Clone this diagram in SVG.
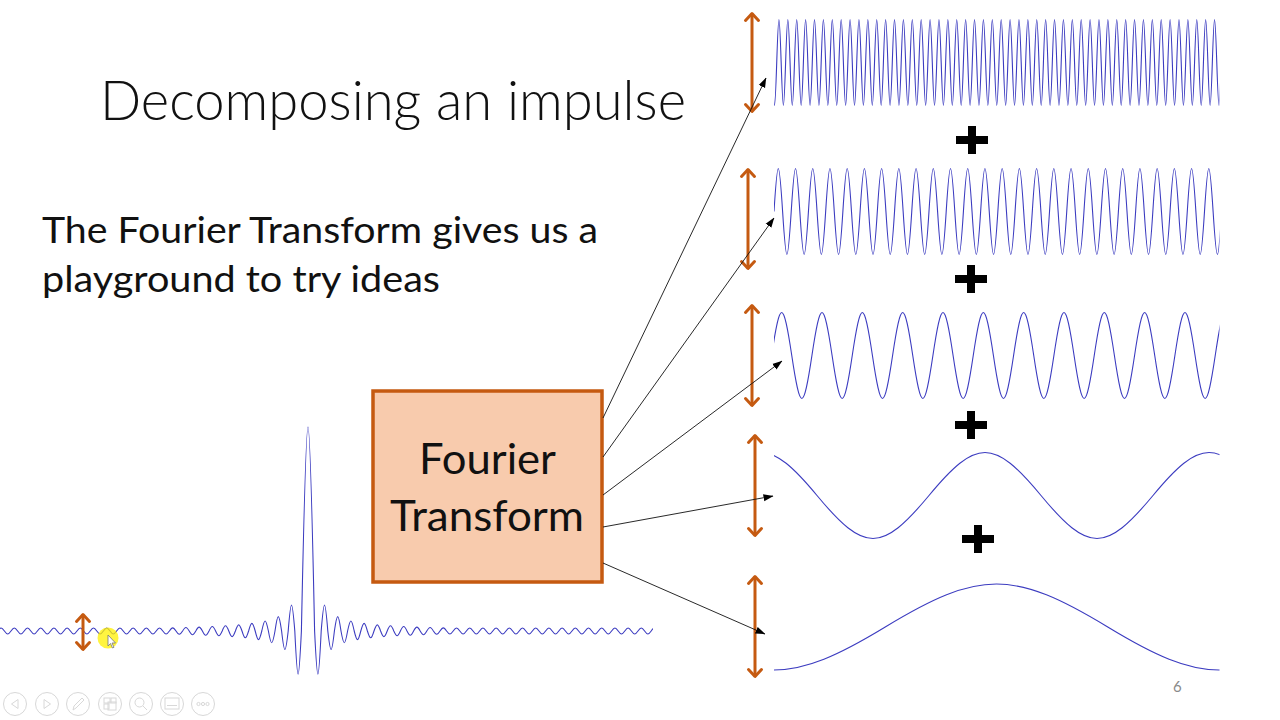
<svg xmlns="http://www.w3.org/2000/svg" width="1280" height="720" viewBox="0 0 1280 720">
<style>
.t{font-family:Lato,"Liberation Sans",sans-serif;fill:#111}
.lt{font-weight:300}
.wave{fill:none;stroke:#3c3cc0;stroke-width:1.1}
.amp{stroke:#C55A11;stroke-width:3;marker-start:url(#oh);marker-end:url(#oh)}
.con{stroke:#111;stroke-width:0.9;fill:none;marker-end:url(#ah)}
.tb{fill:none;stroke:#d8d8d8;stroke-width:1}
</style>
<defs>
<marker id="oh" markerUnits="userSpaceOnUse" viewBox="-10 -8 12 16" markerWidth="12" markerHeight="16" refX="0" refY="0" orient="auto-start-reverse" overflow="visible">
<path d="M-7,-6.5 L0,0 L-7,6.5" fill="none" stroke="#C55A11" stroke-width="3" stroke-linecap="round" stroke-linejoin="round"/>
</marker>
<marker id="ah" markerUnits="userSpaceOnUse" viewBox="0 0 10 8" markerWidth="10" markerHeight="8" refX="9.5" refY="4" orient="auto">
<path d="M0,0.5 L10,4 L0,7.5 z" fill="#000"/>
</marker>
<clipPath id="cw"><rect x="774" y="0" width="445.5" height="720"/></clipPath>
<clipPath id="ci"><rect x="0" y="400" width="653" height="300"/></clipPath>
</defs>
<rect width="1280" height="720" fill="#fff"/>

<g id="title"><text class="t lt" x="100" y="120" font-size="56" textLength="586" lengthAdjust="spacingAndGlyphs">Decomposing an impulse</text></g>
<g id="body-text">
<text class="t" x="42" y="243" font-size="36" textLength="556" lengthAdjust="spacingAndGlyphs">The Fourier Transform gives us a</text>
<text class="t" x="42" y="292" font-size="36" textLength="398" lengthAdjust="spacingAndGlyphs">playground to try ideas</text>
</g>

<g id="impulse-signal" clip-path="url(#ci)">
<path class="wave" d="M-2.2,631 c2.8,-4 3.8,-4 6.6,0
s3.8,4 6.6,0s3.8,-4 6.6,0 s3.8,4 6.6,0s3.8,-4 6.6,0 s3.8,4 6.6,0s3.8,-4 6.6,0 s3.8,4 6.6,0s3.8,-4 6.6,0
s3.8,4 6.6,0s3.8,-4 6.6,0 s3.8,4 6.6,0s3.8,-4 6.6,0 s3.8,4 6.6,0s3.8,-4 6.6,0 s3.8,4 6.6,0s3.8,-4 6.6,0
s3.8,4 6.6,0s3.8,-4 6.6,0 s3.8,4 6.6,0s3.8,-4 6.6,0 s3.8,4 6.6,0s3.8,-4 6.6,0 s3.8,4 6.6,0s3.8,-4 6.6,0
s3.8,4 6.6,0
c2.8,-4.2 3.8,-4.2 6.6,0 c2.8,4.4 3.8,4.4 6.6,0 c2.8,-4.7 3.8,-4.7 6.6,0 c2.8,4.9 3.8,4.9 6.6,0
c2.8,-5.2 3.8,-5.2 6.6,0 c2.8,5.6 3.8,5.6 6.6,0 c2.8,-6 3.8,-6 6.6,0 c2.8,6.4 3.8,6.4 6.6,0
c2.8,-6.9 3.8,-6.9 6.6,0 c2.8,7.5 3.8,7.5 6.6,0 c2.8,-8.2 3.8,-8.2 6.6,0 c2.8,9.1 3.8,9.1 6.6,0
c2.8,-10.2 3.8,-10.2 6.6,0 c2.8,11.5 3.8,11.5 6.6,0 c2.8,-13.3 3.8,-13.3 6.6,0 c2.8,15.7 3.8,15.7 6.6,0
c2.8,-19.2 3.8,-19.2 6.6,0 c2.8,24.7 3.8,24.7 6.6,0 c2.8,-34.6 3.8,-34.6 6.6,0 c2.8,57.7 3.8,57.7 6.6,0
c5.6,-272 7.6,-272 13.2,0
c2.8,57.7 3.8,57.7 6.6,0 c2.8,-34.6 3.8,-34.6 6.6,0 c2.8,24.7 3.8,24.7 6.6,0 c2.8,-19.2 3.8,-19.2 6.6,0
c2.8,15.7 3.8,15.7 6.6,0 c2.8,-13.3 3.8,-13.3 6.6,0 c2.8,11.5 3.8,11.5 6.6,0 c2.8,-10.2 3.8,-10.2 6.6,0
c2.8,9.1 3.8,9.1 6.6,0 c2.8,-8.2 3.8,-8.2 6.6,0 c2.8,7.5 3.8,7.5 6.6,0 c2.8,-6.9 3.8,-6.9 6.6,0
c2.8,6.4 3.8,6.4 6.6,0 c2.8,-6 3.8,-6 6.6,0 c2.8,5.6 3.8,5.6 6.6,0 c2.8,-5.2 3.8,-5.2 6.6,0
c2.8,4.9 3.8,4.9 6.6,0 c2.8,-4.7 3.8,-4.7 6.6,0 c2.8,4.4 3.8,4.4 6.6,0 c2.8,-4.2 3.8,-4.2 6.6,0
c2.8,4 3.8,4 6.6,0
s3.8,-4 6.6,0s3.8,4 6.6,0 s3.8,-4 6.6,0s3.8,4 6.6,0 s3.8,-4 6.6,0s3.8,4 6.6,0 s3.8,-4 6.6,0s3.8,4 6.6,0
s3.8,-4 6.6,0s3.8,4 6.6,0 s3.8,-4 6.6,0s3.8,4 6.6,0 s3.8,-4 6.6,0s3.8,4 6.6,0 s3.8,-4 6.6,0s3.8,4 6.6,0
s3.8,-4 6.6,0s3.8,4 6.6,0 s3.8,-4 6.6,0s3.8,4 6.6,0 s3.8,-4 6.6,0s3.8,4 6.6,0 s3.8,-4 6.6,0s3.8,4 6.6,0
s3.8,-4 6.6,0s3.8,4 6.6,0 s3.8,-4 6.6,0s3.8,4 6.6,0 s3.8,-4 6.6,0s3.8,4 6.6,0 s3.8,-4 6.6,0s3.8,4 6.6,0"/>
</g>

<g id="fourier-transform">
<rect x="373" y="391" width="229" height="191" fill="#F8CBAD" stroke="#C55A11" stroke-width="3.5"/>
<text class="t" x="419" y="474" font-size="43" textLength="137" lengthAdjust="spacingAndGlyphs">Fourier</text>
<text class="t" x="390" y="531" font-size="43" textLength="194" lengthAdjust="spacingAndGlyphs">Transform</text>
</g>

<g clip-path="url(#cw)">
<g id="wave-1"><path class="wave" d="M772.28,62.5 c1.886,57.3 2.559,57.3 4.445,0
s2.559,-57.3 4.445,0s2.559,57.3 4.445,0 s2.559,-57.3 4.445,0s2.559,57.3 4.445,0 s2.559,-57.3 4.445,0s2.559,57.3 4.445,0 s2.559,-57.3 4.445,0s2.559,57.3 4.445,0
s2.559,-57.3 4.445,0s2.559,57.3 4.445,0 s2.559,-57.3 4.445,0s2.559,57.3 4.445,0 s2.559,-57.3 4.445,0s2.559,57.3 4.445,0 s2.559,-57.3 4.445,0s2.559,57.3 4.445,0
s2.559,-57.3 4.445,0s2.559,57.3 4.445,0 s2.559,-57.3 4.445,0s2.559,57.3 4.445,0 s2.559,-57.3 4.445,0s2.559,57.3 4.445,0 s2.559,-57.3 4.445,0s2.559,57.3 4.445,0
s2.559,-57.3 4.445,0s2.559,57.3 4.445,0 s2.559,-57.3 4.445,0s2.559,57.3 4.445,0 s2.559,-57.3 4.445,0s2.559,57.3 4.445,0 s2.559,-57.3 4.445,0s2.559,57.3 4.445,0
s2.559,-57.3 4.445,0s2.559,57.3 4.445,0 s2.559,-57.3 4.445,0s2.559,57.3 4.445,0 s2.559,-57.3 4.445,0s2.559,57.3 4.445,0 s2.559,-57.3 4.445,0s2.559,57.3 4.445,0
s2.559,-57.3 4.445,0s2.559,57.3 4.445,0 s2.559,-57.3 4.445,0s2.559,57.3 4.445,0 s2.559,-57.3 4.445,0s2.559,57.3 4.445,0 s2.559,-57.3 4.445,0s2.559,57.3 4.445,0
s2.559,-57.3 4.445,0s2.559,57.3 4.445,0 s2.559,-57.3 4.445,0s2.559,57.3 4.445,0 s2.559,-57.3 4.445,0s2.559,57.3 4.445,0 s2.559,-57.3 4.445,0s2.559,57.3 4.445,0
s2.559,-57.3 4.445,0s2.559,57.3 4.445,0 s2.559,-57.3 4.445,0s2.559,57.3 4.445,0 s2.559,-57.3 4.445,0s2.559,57.3 4.445,0 s2.559,-57.3 4.445,0s2.559,57.3 4.445,0
s2.559,-57.3 4.445,0s2.559,57.3 4.445,0 s2.559,-57.3 4.445,0s2.559,57.3 4.445,0 s2.559,-57.3 4.445,0s2.559,57.3 4.445,0 s2.559,-57.3 4.445,0s2.559,57.3 4.445,0
s2.559,-57.3 4.445,0s2.559,57.3 4.445,0 s2.559,-57.3 4.445,0s2.559,57.3 4.445,0 s2.559,-57.3 4.445,0s2.559,57.3 4.445,0 s2.559,-57.3 4.445,0s2.559,57.3 4.445,0
s2.559,-57.3 4.445,0s2.559,57.3 4.445,0 s2.559,-57.3 4.445,0s2.559,57.3 4.445,0 s2.559,-57.3 4.445,0s2.559,57.3 4.445,0 s2.559,-57.3 4.445,0s2.559,57.3 4.445,0
s2.559,-57.3 4.445,0s2.559,57.3 4.445,0 s2.559,-57.3 4.445,0s2.559,57.3 4.445,0 s2.559,-57.3 4.445,0s2.559,57.3 4.445,0 s2.559,-57.3 4.445,0s2.559,57.3 4.445,0
s2.559,-57.3 4.445,0s2.559,57.3 4.445,0 s2.559,-57.3 4.445,0s2.559,57.3 4.445,0 s2.559,-57.3 4.445,0s2.559,57.3 4.445,0 s2.559,-57.3 4.445,0s2.559,57.3 4.445,0"/></g>
<g id="wave-2"><path class="wave" d="M774,211.5 c3.654,-57.3 4.956,-57.3 8.61,0
s4.956,57.3 8.61,0s4.956,-57.3 8.61,0 s4.956,57.3 8.61,0s4.956,-57.3 8.61,0 s4.956,57.3 8.61,0s4.956,-57.3 8.61,0 s4.956,57.3 8.61,0s4.956,-57.3 8.61,0
s4.956,57.3 8.61,0s4.956,-57.3 8.61,0 s4.956,57.3 8.61,0s4.956,-57.3 8.61,0 s4.956,57.3 8.61,0s4.956,-57.3 8.61,0 s4.956,57.3 8.61,0s4.956,-57.3 8.61,0
s4.956,57.3 8.61,0s4.956,-57.3 8.61,0 s4.956,57.3 8.61,0s4.956,-57.3 8.61,0 s4.956,57.3 8.61,0s4.956,-57.3 8.61,0 s4.956,57.3 8.61,0s4.956,-57.3 8.61,0
s4.956,57.3 8.61,0s4.956,-57.3 8.61,0 s4.956,57.3 8.61,0s4.956,-57.3 8.61,0 s4.956,57.3 8.61,0s4.956,-57.3 8.61,0 s4.956,57.3 8.61,0s4.956,-57.3 8.61,0
s4.956,57.3 8.61,0s4.956,-57.3 8.61,0 s4.956,57.3 8.61,0s4.956,-57.3 8.61,0 s4.956,57.3 8.61,0s4.956,-57.3 8.61,0 s4.956,57.3 8.61,0s4.956,-57.3 8.61,0
s4.956,57.3 8.61,0s4.956,-57.3 8.61,0 s4.956,57.3 8.61,0s4.956,-57.3 8.61,0 s4.956,57.3 8.61,0s4.956,-57.3 8.61,0 s4.956,57.3 8.61,0s4.956,-57.3 8.61,0
s4.956,57.3 8.61,0s4.956,-57.3 8.61,0 s4.956,57.3 8.61,0s4.956,-57.3 8.61,0"/></g>
<g id="wave-3"><path class="wave" d="M771.6,355.5 c8.558,-57.3 11.607,-57.3 20.165,0
s11.607,57.3 20.165,0s11.607,-57.3 20.165,0 s11.607,57.3 20.165,0s11.607,-57.3 20.165,0 s11.607,57.3 20.165,0s11.607,-57.3 20.165,0 s11.607,57.3 20.165,0s11.607,-57.3 20.165,0
s11.607,57.3 20.165,0s11.607,-57.3 20.165,0 s11.607,57.3 20.165,0s11.607,-57.3 20.165,0 s11.607,57.3 20.165,0s11.607,-57.3 20.165,0 s11.607,57.3 20.165,0s11.607,-57.3 20.165,0
s11.607,57.3 20.165,0s11.607,-57.3 20.165,0 s11.607,57.3 20.165,0s11.607,-57.3 20.165,0 s11.607,57.3 20.165,0s11.607,-57.3 20.165,0 s11.607,57.3 20.165,0s11.607,-57.3 20.165,0"/></g>
<g id="wave-4"><path class="wave" d="M705,495.5 c47.53,-57.3 64.47,-57.3 112,0 s64.47,57.3 112,0 s64.47,-57.3 112,0 s64.47,57.3 112,0 s64.47,-57.3 112,0"/></g>
<g id="wave-5"><path class="wave" d="M662.75,627 c94.43,57.3 128.07,57.3 222.5,0 s128.07,-57.3 222.5,0 s128.07,57.3 222.5,0"/></g>
</g>

<g id="amplitude-arrows">
<line class="amp" x1="752" y1="13.5" x2="752" y2="111.5"/>
<line class="amp" x1="748" y1="169.5" x2="748" y2="268.5"/>
<line class="amp" x1="752" y1="305.5" x2="752" y2="405.5"/>
<line class="amp" x1="755" y1="435.5" x2="755" y2="535.5"/>
<line class="amp" x1="755" y1="576.5" x2="755" y2="676.5"/>
<line class="amp" x1="83" y1="614.5" x2="83" y2="649.5"/>
</g>

<g id="plus-signs" fill="#000">
<path d="M968,126h8v10h12v8h-12v10h-8v-10h-12v-8h12z"/>
<path d="M967,265h8v10h12v8h-12v10h-8v-10h-12v-8h12z"/>
<path d="M967,411h8v10h12v8h-12v10h-8v-10h-12v-8h12z"/>
<path d="M974,525h8v10h12v8h-12v10h-8v-10h-12v-8h12z"/>
</g>

<g id="connectors">
<line class="con" x1="603" y1="418" x2="766" y2="78"/>
<line class="con" x1="603" y1="457" x2="774" y2="218"/>
<line class="con" x1="603" y1="495" x2="782" y2="361"/>
<line class="con" x1="603" y1="527" x2="773" y2="496"/>
<line class="con" x1="603" y1="563" x2="765" y2="634"/>
</g>

<g id="cursor">
<circle cx="108" cy="638" r="10.5" fill="#FFF000" fill-opacity="0.75"/>
<path d="M108,635 L108,646 L110.5,643.5 L112.5,648 L114,647.3 L112,643 L115.5,643 Z" fill="#fff" stroke="#777" stroke-width="0.8"/>
</g>

<g id="toolbar">
<circle class="tb" cx="15" cy="704" r="11.5"/><path class="tb" d="M18,699.5 L11.5,704 L18,708.5 Z"/>
<circle class="tb" cx="47" cy="704" r="11.5"/><path class="tb" d="M44,699.5 L50.5,704 L44,708.5 Z"/>
<circle class="tb" cx="78" cy="704" r="11.5"/><path class="tb" d="M73,710 L74,706 L82,698 L84,700 L76,708 Z"/>
<circle class="tb" cx="110" cy="704" r="11.5"/><rect class="tb" x="104" y="698" width="6" height="5"/><rect class="tb" x="111" y="698" width="5" height="5"/><rect class="tb" x="104" y="704" width="5" height="5"/><rect class="tb" x="108" y="702" width="8" height="8"/>
<circle class="tb" cx="141" cy="704" r="11.5"/><circle class="tb" cx="139.5" cy="702.5" r="4.5"/><path class="tb" d="M143,706 L147,710"/>
<circle class="tb" cx="172" cy="704" r="11.5"/><rect class="tb" x="165" y="698" width="14" height="11"/><path class="tb" d="M167,705.5 H177"/>
<circle class="tb" cx="203" cy="704" r="11.5"/><circle class="tb" cx="198.5" cy="704" r="1.6"/><circle class="tb" cx="203" cy="704" r="1.6"/><circle class="tb" cx="207.5" cy="704" r="1.6"/>
</g>

<g id="page-number"><text x="1173" y="692" font-family="Lato,'Liberation Sans',sans-serif" font-size="15" fill="#8a8a8a">6</text></g>
</svg>
